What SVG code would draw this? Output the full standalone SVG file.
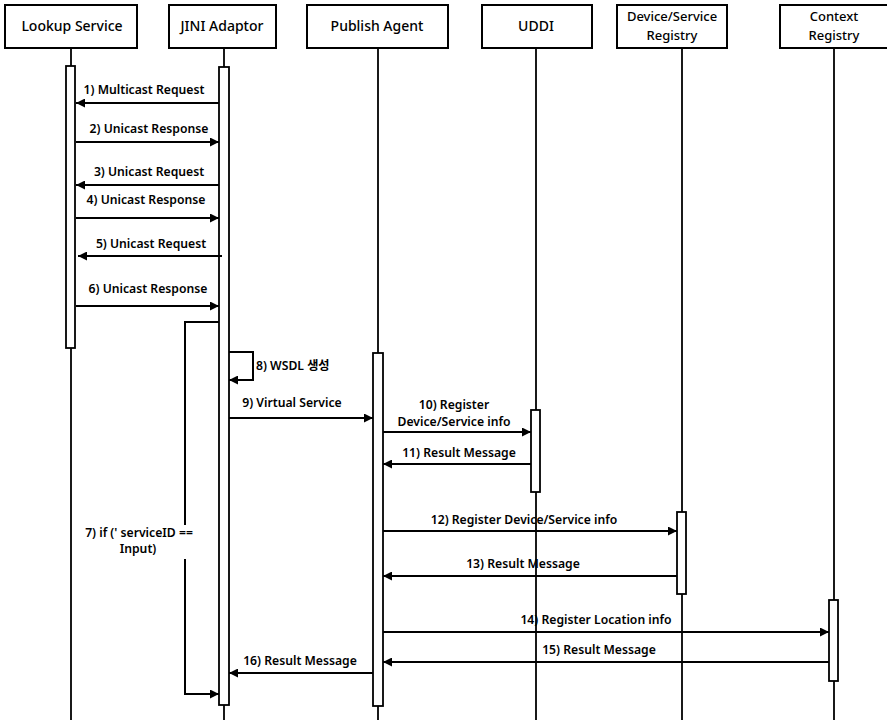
<svg xmlns="http://www.w3.org/2000/svg" width="887" height="720" viewBox="0 0 887 720">
  <style>
    .box { fill: #fff; stroke: #000; stroke-width: 2; }
    .life { stroke: #000; stroke-width: 1.8; fill: none; }
    .act { fill: #fff; stroke: #000; stroke-width: 1.8; }
    .msg { stroke: #000; stroke-width: 2; fill: none; }
    .hd { font-family: "Noto Sans", "Noto Sans CJK KR", sans-serif; font-size: 14px; font-weight: 500; text-anchor: middle; fill: #000; }
    .hd.two { font-size: 13px; }
    .lb { font-family: "Noto Sans", "Noto Sans CJK KR", sans-serif; font-size: 12.2px; font-weight: 600; text-anchor: middle; fill: #000; }
    .lb.st { text-anchor: start; }
  </style>
  <defs>
    <marker id="ah" viewBox="0 0 10 10" refX="10" refY="5" markerWidth="11" markerHeight="9" markerUnits="userSpaceOnUse" orient="auto">
      <path d="M0,0 L10,5 L0,10 z" fill="#000"/>
    </marker>
  </defs>
  <rect width="887" height="720" fill="#fff"/>

  <!-- participants with lifelines and activations -->
  <g id="lookup-service">
    <line class="life" x1="71" y1="48" x2="71" y2="720"/>
    <rect class="box" x="5" y="5" width="132" height="43"/>
    <text class="hd" x="72" y="31">Lookup Service</text>
    <rect class="act" x="66" y="66" width="9" height="282"/>
  </g>
  <g id="jini-adaptor">
    <line class="life" x1="224" y1="48" x2="224" y2="720"/>
    <rect class="box" x="169" y="5" width="107" height="43"/>
    <text class="hd" x="222" y="31">JINI Adaptor</text>
    <rect class="act" x="219" y="67" width="10" height="638"/>
  </g>
  <g id="publish-agent">
    <line class="life" x1="378" y1="48" x2="378" y2="720"/>
    <rect class="box" x="307" y="5" width="141" height="43"/>
    <text class="hd" x="377" y="31">Publish Agent</text>
    <rect class="act" x="373" y="353" width="10" height="353"/>
  </g>
  <g id="uddi">
    <line class="life" x1="536" y1="48" x2="536" y2="720"/>
    <rect class="box" x="482" y="5" width="110" height="43"/>
    <text class="hd" x="536" y="31">UDDI</text>
    <rect class="act" x="531" y="410" width="9" height="82"/>
  </g>
  <g id="device-service-registry">
    <line class="life" x1="682" y1="48" x2="682" y2="720"/>
    <rect class="box" x="617" y="5" width="110" height="43"/>
    <text class="hd two" x="672" y="21">Device/Service</text>
    <text class="hd two" x="672" y="40">Registry</text>
    <rect class="act" x="677" y="512" width="9" height="82"/>
  </g>
  <g id="context-registry">
    <line class="life" x1="834" y1="48" x2="834" y2="720"/>
    <rect class="box" x="780" y="5" width="110" height="43"/>
    <text class="hd two" x="834" y="21">Context</text>
    <text class="hd two" x="834" y="40">Registry</text>
    <rect class="act" x="829" y="600" width="9" height="81"/>
  </g>

  <!-- messages -->
  <g id="connectors">
    <line class="msg" x1="219" y1="103" x2="76" y2="103" marker-end="url(#ah)"/>
    <line class="msg" x1="76" y1="142" x2="219" y2="142" marker-end="url(#ah)"/>
    <line class="msg" x1="219" y1="185" x2="76" y2="185" marker-end="url(#ah)"/>
    <line class="msg" x1="76" y1="218" x2="219" y2="218" marker-end="url(#ah)"/>
    <line class="msg" x1="222" y1="256" x2="78" y2="256" marker-end="url(#ah)"/>
    <line class="msg" x1="76" y1="306" x2="219" y2="306" marker-end="url(#ah)"/>
    <!-- 7) guard loop -->
    <polyline class="msg" points="219,322 185,322 185,525"/>
    <polyline class="msg" points="185,559 185,694 219,694" marker-end="url(#ah)"/>
    <!-- 8) self call -->
    <polyline class="msg" points="229,352 253,352 253,380 229,380" marker-end="url(#ah)"/>
    <line class="msg" x1="229" y1="418" x2="373" y2="418" marker-end="url(#ah)"/>
    <line class="msg" x1="383" y1="432" x2="531" y2="432" marker-end="url(#ah)"/>
    <line class="msg" x1="531" y1="464" x2="383" y2="464" marker-end="url(#ah)"/>
    <line class="msg" x1="383" y1="531" x2="677" y2="531" marker-end="url(#ah)"/>
    <line class="msg" x1="677" y1="576" x2="383" y2="576" marker-end="url(#ah)"/>
    <line class="msg" x1="383" y1="632" x2="829" y2="632" marker-end="url(#ah)"/>
    <line class="msg" x1="829" y1="662" x2="383" y2="662" marker-end="url(#ah)"/>
    <line class="msg" x1="373" y1="673" x2="229" y2="673" marker-end="url(#ah)"/>
  </g>

  <!-- message labels -->
  <g id="labels">
    <text class="lb" x="144" y="94">1) Multicast Request</text>
    <text class="lb" x="149" y="133">2) Unicast Response</text>
    <text class="lb" x="149" y="176">3) Unicast Request</text>
    <text class="lb" x="146" y="204">4) Unicast Response</text>
    <text class="lb" x="151" y="248">5) Unicast Request</text>
    <text class="lb" x="148" y="293">6) Unicast Response</text>
    <text class="lb" x="139" y="537">7) if (' serviceID ==</text>
    <text class="lb" x="138" y="553">Input)</text>
    <text class="lb st" x="256" y="370">8) WSDL 생성</text>
    <text class="lb" x="292" y="407">9) Virtual Service</text>
    <text class="lb" x="454" y="409">10) Register</text>
    <text class="lb" x="454" y="426">Device/Service info</text>
    <text class="lb" x="459" y="457">11) Result Message</text>
    <text class="lb" x="524" y="524">12) Register Device/Service info</text>
    <text class="lb" x="523" y="568">13) Result Message</text>
    <text class="lb" x="596" y="624">14) Register Location info</text>
    <text class="lb" x="599" y="654">15) Result Message</text>
    <text class="lb" x="300" y="665">16) Result Message</text>
  </g>
</svg>
